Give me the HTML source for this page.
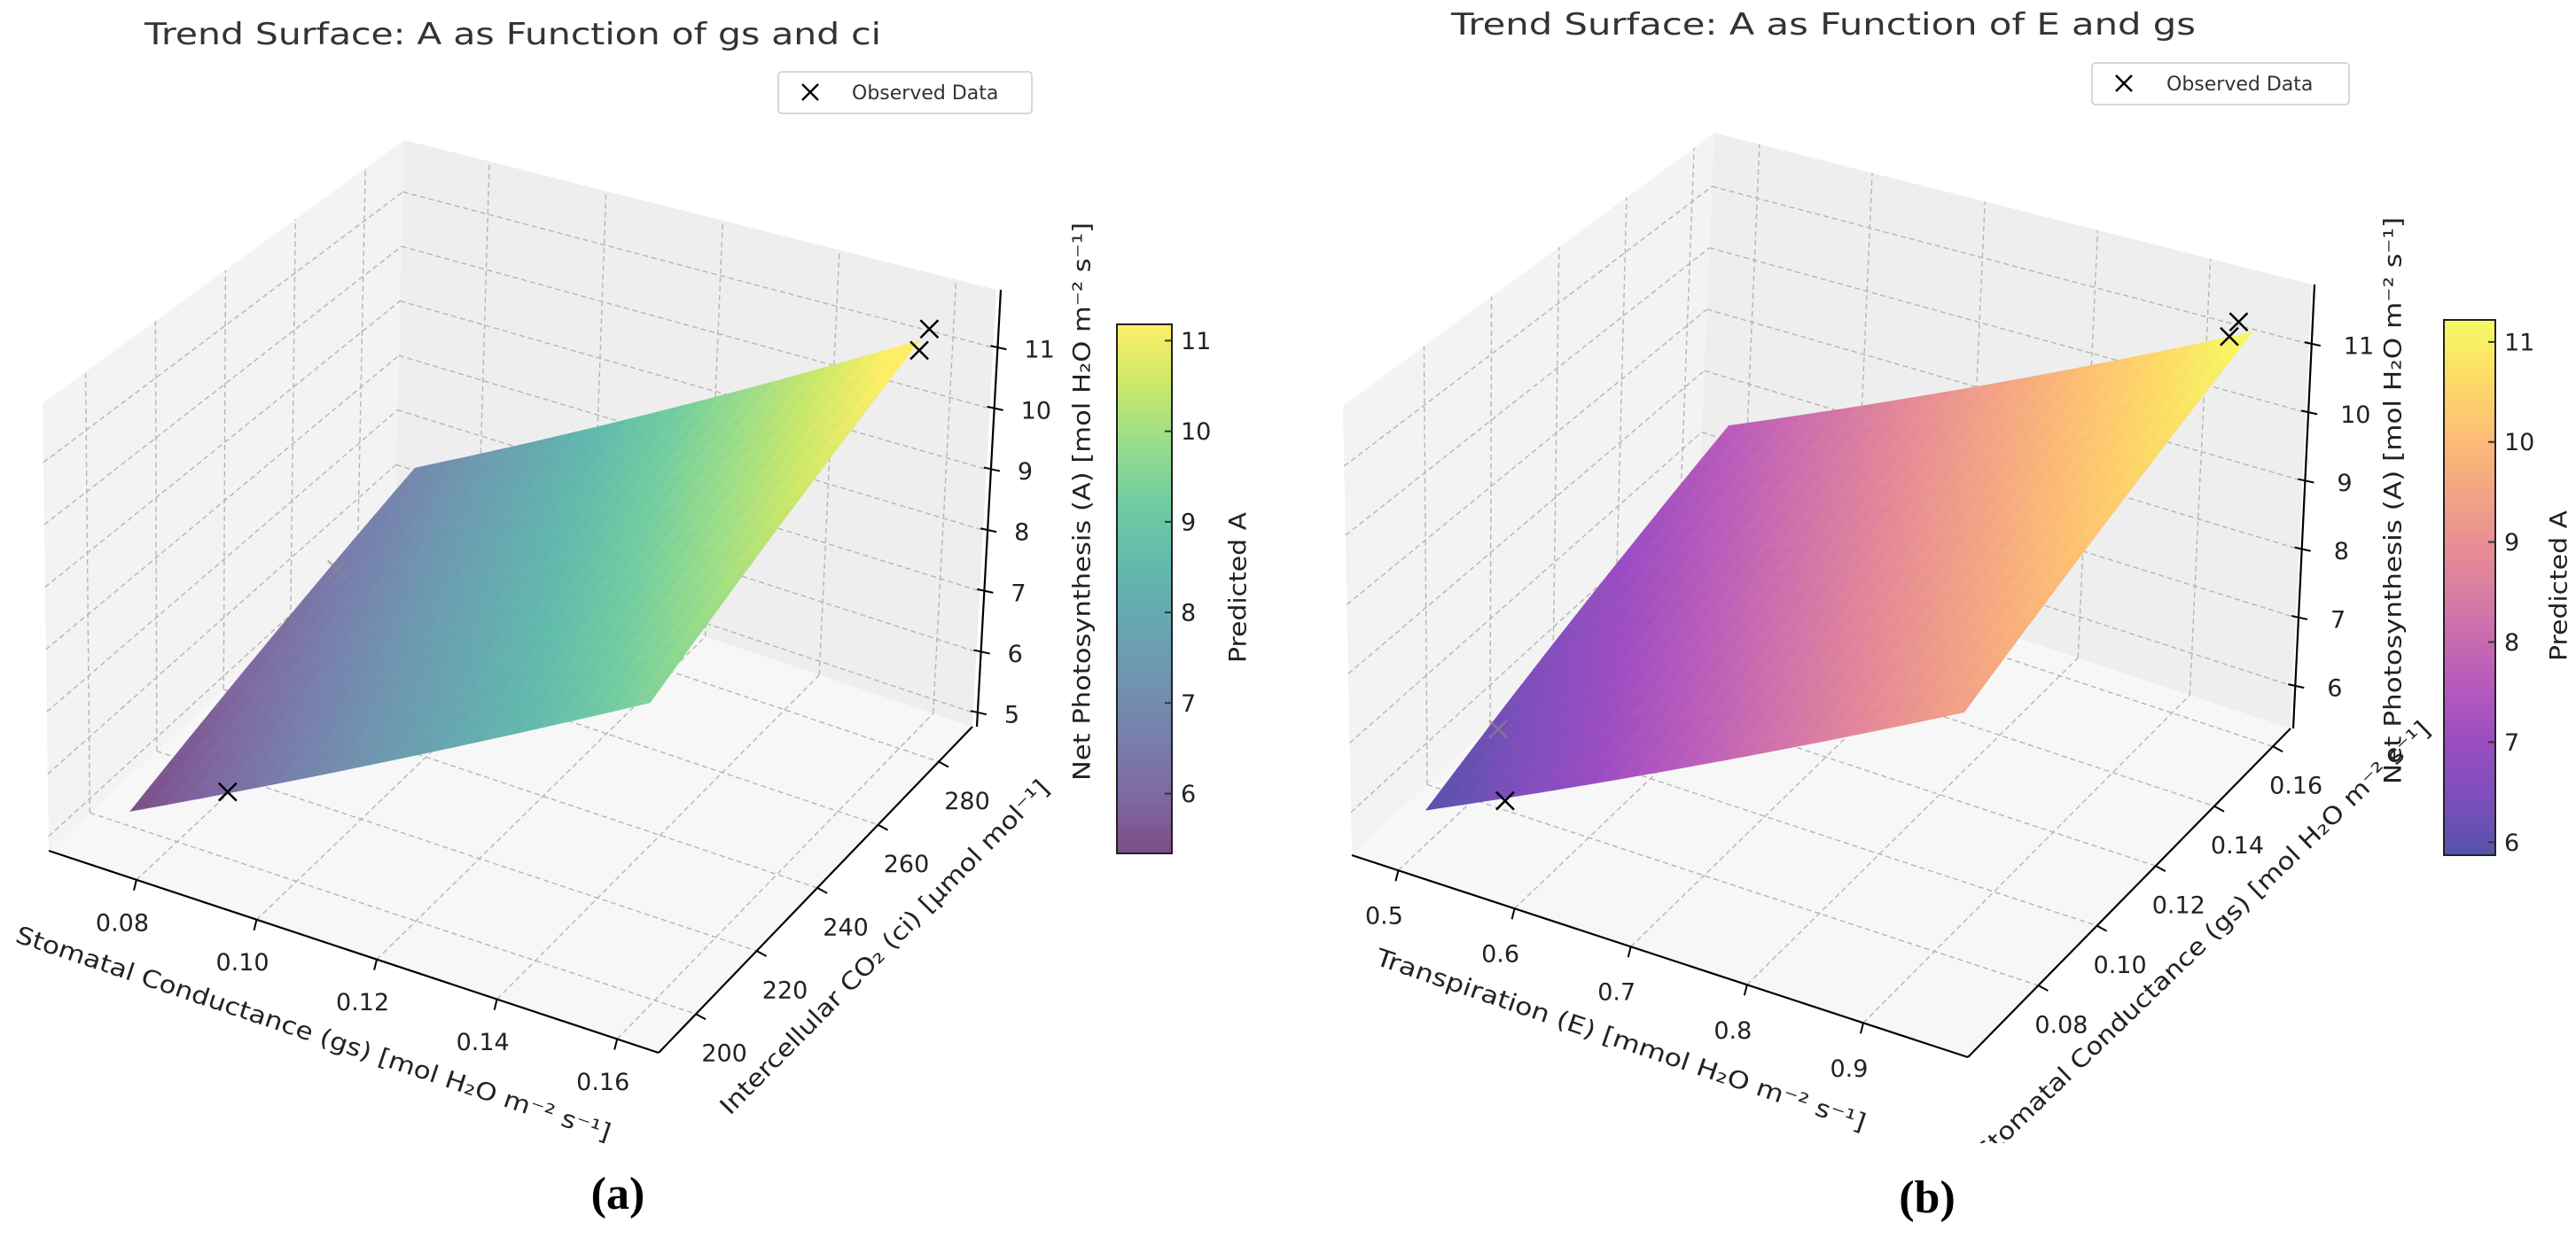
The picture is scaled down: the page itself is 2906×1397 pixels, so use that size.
<!DOCTYPE html>
<html><head><meta charset="utf-8"><style>
html,body{margin:0;padding:0;background:#fff;}
svg{display:block;font-family:"DejaVu Sans","Liberation Sans",sans-serif;}
</style></head><body>
<svg id="fig" xmlns="http://www.w3.org/2000/svg" width="2906" height="1397" viewBox="0 0 2906 1397">
<defs><clipPath id="clipB"><rect x="1450" y="0" width="1456" height="1290"/></clipPath></defs>
<rect x="0" y="0" width="2906" height="1397" fill="#fff"/>
<text x="163" y="50" font-size="34" fill="#333" textLength="831" lengthAdjust="spacingAndGlyphs">Trend Surface: A as Function of gs and ci</text>
<text x="1637" y="39" font-size="34" fill="#333" textLength="840" lengthAdjust="spacingAndGlyphs">Trend Surface: A as Function of E and gs</text>
<g>
<rect x="878" y="81" width="286" height="47" rx="4" fill="#fff" stroke="#ccc" stroke-width="1.5"/>
<path d="M905 95 L923 113 M923 95 L905 113" stroke="#000" stroke-width="2.5"/>
<text x="961" y="112" font-size="22" fill="#333">Observed Data</text>
</g>
<g>
<rect x="2360" y="71" width="290" height="47" rx="4" fill="#fff" stroke="#ccc" stroke-width="1.5"/>
<path d="M2387 85 L2405 103 M2405 85 L2387 103" stroke="#000" stroke-width="2.5"/>
<text x="2444" y="102" font-size="22" fill="#333">Observed Data</text>
</g>
<text x="697" y="1364" font-size="52" font-weight="bold" text-anchor="middle" font-family="Liberation Serif, serif">(a)</text>
<text x="2174" y="1368" font-size="52" font-weight="bold" text-anchor="middle" font-family="Liberation Serif, serif">(b)</text>
<g id="plotA"></g>
<g id="plotB"></g>
</svg>
<script>
// ---------- Panel A data ----------
const xTicksA = [0.08, 0.10, 0.12, 0.14, 0.16];
const xTickLabelsA = ["0.08", "0.10", "0.12", "0.14", "0.16"];
const yTicksA = [200, 220, 240, 260, 280];
const yTickLabelsA = ["200", "220", "240", "260", "280"];
const zTicksA = [5, 6, 7, 8, 9, 10, 11];
const cbTicksA = [6, 7, 8, 9, 10, 11];
const surfXA = [0.075, 0.160];
const surfYA = [195, 280];
const surfCornerA = [5.35, 9.5, 6.85, 11.45]; // (xlo,ylo),(xhi,ylo),(xlo,yhi),(xhi,yhi)
const obsXA = [0.160, 0.161, 0.089];
const obsYA = [283, 278, 199];
const obsZA = [11.5, 11.4, 5.9];
const hiddenXA = [0.076];
const hiddenYA = [255];
const hiddenZA = [6.4];
// ---------- Panel B data ----------
const xTicksB = [0.5, 0.6, 0.7, 0.8, 0.9];
const xTickLabelsB = ["0.5", "0.6", "0.7", "0.8", "0.9"];
const yTicksB = [0.08, 0.10, 0.12, 0.14, 0.16];
const yTickLabelsB = ["0.08", "0.10", "0.12", "0.14", "0.16"];
const zTicksB = [6, 7, 8, 9, 10, 11];
const cbTicksB = [6, 7, 8, 9, 10, 11];
const surfXB = [0.50, 0.955];
const surfYB = [0.065, 0.160];
const surfCornerB = [5.87, 9.47, 7.6, 11.25];
const obsXB = [0.935, 0.935, 0.56];
const obsYB = [0.163, 0.160, 0.068];
const obsZB = [11.2, 11.1, 6.2];
const hiddenXB = [0.508];
const hiddenYB = [0.085];
const hiddenZB = [6.25];

const viridis = ["#440154","#482878","#3e4989","#31688e","#26828e","#1f9e89","#35b779","#6ece58","#b5de2b","#fde725"];
const plasma = ["#0d0887","#46039f","#7201a8","#9c179e","#bd3786","#d8576b","#ed7953","#fb9f3a","#fdca26","#f0f921"];

const NS = "http://www.w3.org/2000/svg";
function el(tag, attrs, parent){
  const e = document.createElementNS(NS, tag);
  for (const k in attrs) e.setAttribute(k, attrs[k]);
  parent.appendChild(e);
  return e;
}
function hex(h){return [parseInt(h.substr(1,2),16),parseInt(h.substr(3,2),16),parseInt(h.substr(5,2),16)];}
function cmapColor(stops, t, alpha){
  t = Math.max(0, Math.min(1, t));
  const f = t*(stops.length-1), i = Math.min(stops.length-2, Math.floor(f)), u = f-i;
  const a = hex(stops[i]), b = hex(stops[i+1]);
  const c = [0,1,2].map(k => Math.round((a[k]+(b[k]-a[k])*u)*alpha + 255*(1-alpha)));
  return "rgb("+c.join(",")+")";
}
function lerp(p,q,t){return [p[0]+(q[0]-p[0])*t, p[1]+(q[1]-p[1])*t];}

function drawPanel(g, cfg){
  const C = cfg.corners;
  function P(gx,gy,gz){
    const b = lerp(lerp(C.L,C.F,gx), lerp(C.B,C.R,gx), gy);
    const t = lerp(lerp(C.Lt,C.Ft,gx), lerp(C.Bt,C.Rt,gx), gy);
    return lerp(b,t,gz);
  }
  const nx = v => (v-cfg.xr[0])/(cfg.xr[1]-cfg.xr[0]);
  const ny = v => (v-cfg.yr[0])/(cfg.yr[1]-cfg.yr[0]);
  const nz = v => (v-cfg.zr[0])/(cfg.zr[1]-cfg.zr[0]);
  const proj = (x,y,z) => P(nx(x), ny(y), nz(z));
  const poly = pts => pts.map(p=>p[0].toFixed(1)+","+p[1].toFixed(1)).join(" ");

  const leftPane = el("polygon", {points: poly([P(0,0,0),P(0,1,0),P(0,1,1),P(0,0,1)]), fill:"#f3f3f3"}, g);
  
  
  const backPane = el("polygon", {points: poly([P(0,1,0),P(1,1,0),P(1,1,1),P(0,1,1)]), fill:"#eeeeee"}, g);
  
  
  const floor = el("polygon", {points: poly([P(0,0,0),P(1,0,0),P(1,1,0),P(0,1,0)]), fill:"#f7f7f7"}, g);
  
  

  const gg = el("g", {stroke:"#b5b5b5", "stroke-width":"1.4", "stroke-dasharray":"6,4", fill:"none"}, g);
  
  
  function line(a,b){ return el("line",{x1:a[0],y1:a[1],x2:b[0],y2:b[1]},gg); }
  cfg.xTicks.forEach(v=>{ const t=nx(v);
    const l1=line(P(t,0,0),P(t,1,0)); 
    const l2=line(P(t,1,0),P(t,1,1));  });
  cfg.yTicks.forEach(v=>{ const t=ny(v);
    const l1=line(P(0,t,0),P(1,t,0)); 
    const l2=line(P(0,t,0),P(0,t,1));  });
  cfg.zTicks.forEach(v=>{ const t=nz(v);
    const l1=line(P(0,0,t),P(0,1,t)); 
    const l2=line(P(0,1,t),P(1,1,t));  });

  const sg = el("g", {}, g);
  
  
  const N = 28, sc = cfg.surf;
  const val = (u,v) => sc[0]*(1-u)*(1-v) + sc[1]*u*(1-v) + sc[2]*(1-u)*v + sc[3]*u*v;
  const sx = u => cfg.sx[0] + (cfg.sx[1]-cfg.sx[0])*u;
  const sy = v => cfg.sy[0] + (cfg.sy[1]-cfg.sy[0])*v;
  for (let i=0;i<N;i++) for (let j=0;j<N;j++){
    const u0=i/N,u1=(i+1)/N,v0=j/N,v1=(j+1)/N;
    const pts=[proj(sx(u0),sy(v0),val(u0,v0)),proj(sx(u1),sy(v0),val(u1,v0)),proj(sx(u1),sy(v1),val(u1,v1)),proj(sx(u0),sy(v1),val(u0,v1))];
    const c = cmapColor(cfg.cmap, (val((u0+u1)/2,(v0+v1)/2)-cfg.cb[0])/(cfg.cb[1]-cfg.cb[0]), 0.7);
    const q = el("polygon",{points:poly(pts), fill:c, stroke:c, "stroke-width":"0.8"}, sg);
    
  }

  for (let i=0;i<cfg.hx.length;i++){
    const p = proj(cfg.hx[i], cfg.hy[i], cfg.hz[i]);
    const m = el("path",{d:`M${p[0]-10} ${p[1]-10} L${p[0]+10} ${p[1]+10} M${p[0]+10} ${p[1]-10} L${p[0]-10} ${p[1]+10}`, stroke:"#8c8c8c", "stroke-width":"2.5", opacity:"0.6"}, g);
    
    
  }

  for (let i=0;i<cfg.ox.length;i++){
    const p = proj(cfg.ox[i], cfg.oy[i], cfg.oz[i]);
    const m = el("path",{d:`M${p[0]-10} ${p[1]-10} L${p[0]+10} ${p[1]+10} M${p[0]+10} ${p[1]-10} L${p[0]-10} ${p[1]+10}`, stroke:"#000", "stroke-width":"2.5"}, g);
    
    
  }

  const ax = el("g", {stroke:"#000", "stroke-width":"2.2", fill:"none"}, g);
  
  
  const a1=el("line",{x1:P(0,0,0)[0],y1:P(0,0,0)[1],x2:P(1,0,0)[0],y2:P(1,0,0)[1]},ax);
  
  const a2=el("line",{x1:P(1,0,0)[0],y1:P(1,0,0)[1],x2:P(1,1,0)[0],y2:P(1,1,0)[1]},ax);
  
  const a3=el("line",{x1:P(1,1,0)[0]+cfg.zdx,y1:P(1,1,0)[1],x2:P(1,1,1)[0]+cfg.zdx,y2:P(1,1,1)[1]},ax);
  

  const tg = el("g", {"font-size":"27", fill:"#222"}, g);
  
  
  cfg.xTicks.forEach((v,i)=>{ const p=P(nx(v),0,0);
    const tk=el("line",{x1:p[0],y1:p[1],x2:p[0]-3,y2:p[1]+12,stroke:"#000","stroke-width":"2"},ax);
    
    const t=el("text",{x:p[0]+cfg.xOff[0],y:p[1]+cfg.xOff[1],"text-anchor":"middle","dominant-baseline":"middle"},tg);
    
    t.textContent=cfg.xLabels[i]; });
  cfg.yTicks.forEach((v,i)=>{ const p=P(1,ny(v),0);
    const tk=el("line",{x1:p[0],y1:p[1],x2:p[0]+11,y2:p[1]+6,stroke:"#000","stroke-width":"2"},ax);
    
    const t=el("text",{x:p[0]+cfg.yOff[0],y:p[1]+cfg.yOff[1],"text-anchor":"middle","dominant-baseline":"middle"},tg);
    
    t.textContent=cfg.yLabels[i]; });
  cfg.zTicks.forEach(v=>{ const p=P(1,1,nz(v)); const x=p[0]+cfg.zdx;
    const tk=el("line",{x1:x-8,y1:p[1]-2,x2:x+10,y2:p[1]+2,stroke:"#000","stroke-width":"2"},ax);
    
    const t=el("text",{x:x+cfg.zOff,y:p[1]+4,"dominant-baseline":"middle"},tg);
    
    t.textContent=String(v); });

  const cbg = el("g", {}, g);
  
  
  const cbY = v => cfg.cbBox.y1 - (v-cfg.cb[0])/(cfg.cb[1]-cfg.cb[0])*(cfg.cbBox.y1-cfg.cbBox.y0);
  const steps=120, h=(cfg.cbBox.y1-cfg.cbBox.y0)/steps;
  for(let k=0;k<steps;k++){
    const v = cfg.cb[0]+(cfg.cb[1]-cfg.cb[0])*(k+0.5)/steps;
    const r=el("rect",{x:cfg.cbBox.x0,y:cbY(v)-h/2-0.5,width:cfg.cbBox.x1-cfg.cbBox.x0,height:h+1,fill:cmapColor(cfg.cmap,(k+0.5)/steps,0.7)},cbg);
    
  }
  const ob=el("rect",{x:cfg.cbBox.x0,y:cfg.cbBox.y0,width:cfg.cbBox.x1-cfg.cbBox.x0,height:cfg.cbBox.y1-cfg.cbBox.y0,fill:"none",stroke:"#222","stroke-width":"2"},cbg);
  
  cfg.cbTicks.forEach(v=>{ const y=cbY(v);
    const tk=el("line",{x1:cfg.cbBox.x1-8,y1:y,x2:cfg.cbBox.x1,y2:y,stroke:"#333","stroke-width":"2"},cbg);
    
    const t=el("text",{x:cfg.cbBox.x1+10,y:y+2,"font-size":"27",fill:"#222","dominant-baseline":"middle"},cbg);
    
    t.textContent=String(v); });

  const lbl = (name, txt, cx, cy, ang, len, anchor) => {
    const t=el("text",{x:cx,y:cy,"font-size":"27",fill:"#222","text-anchor":anchor||"middle","dominant-baseline":"middle",transform:`rotate(${ang} ${cx} ${cy})`,textLength:len,lengthAdjust:"spacingAndGlyphs"},cfg.labelParent||g);
    
    
    t.textContent=txt; };
  cfg.labels.forEach(l=>lbl(...l));
}

drawPanel(document.getElementById("plotA"), {
  corners:{L:[55,960],F:[743,1188],B:[445,600],R:[1097,820],Lt:[48,455],Ft:[762,645],Bt:[456,158],Rt:[1124,327]},
  xr:[0.0654,0.1669], yr:[187.7,291.1], zr:[4.77,11.95],
  xTicks:xTicksA, xLabels:xTickLabelsA, yTicks:yTicksA, yLabels:yTickLabelsA, zTicks:zTicksA,
  xOff:[-16,50], yOff:[32,46], zOff:30, zdx:5,
  sx:surfXA, sy:surfYA, surf:surfCornerA, ox:obsXA, oy:obsYA, oz:obsZA, hx:hiddenXA, hy:hiddenYA, hz:hiddenZA,
  cmap:viridis, cb:[5.34,11.18], cbTicks:cbTicksA, cbBox:{x0:1260,x1:1322,y0:366,y1:963},
  labels:[
    ["x-axis-title","Stomatal Conductance (gs) [mol H\u2082O m\u207B\u00B2 s\u207B\u00B9]",353,1168,18.6,706],
    ["y-axis-title","Intercellular CO\u2082 (ci) [\u03BCmol mol\u207B\u00B9]",999,1070,-45.5,516],
    ["z-axis-title","Net Photosynthesis (A) [mol H\u2082O m\u207B\u00B2 s\u207B\u00B9]",1222,566,-90,630],
    ["colorbar-title","Predicted A",1398,663,-90,170]
  ]
});

const gB = document.getElementById("plotB");
const clipG = el("g", {"clip-path":"url(#clipB)"}, gB);


drawPanel(gB, {
  corners:{L:[1525,965],F:[2220,1193],B:[1915,600],R:[2584,822],Lt:[1515,458],Ft:[2240,640],Bt:[1934,150],Rt:[2608,321]},
  xr:[0.46,0.99], yr:[0.056,0.166], zr:[5.38,11.87],
  xTicks:xTicksB, xLabels:xTickLabelsB, yTicks:yTicksB, yLabels:yTickLabelsB, zTicks:zTicksB,
  xOff:[-16,53], yOff:[26,46], zOff:36, zdx:3,
  sx:surfXB, sy:surfYB, surf:surfCornerB, ox:obsXB, oy:obsYB, oz:obsZB, hx:hiddenXB, hy:hiddenYB, hz:hiddenZB,
  cmap:plasma, cb:[5.87,11.22], cbTicks:cbTicksB, cbBox:{x0:2757,x1:2815,y0:361,y1:965},
  labelParent: clipG,
  labels:[
    ["x-axis-title","Transpiration (E) [mmol H\u2082O m\u207B\u00B2 s\u207B\u00B9]",1828,1175,18.9,582],
    ["y-axis-title","Stomatal Conductance (gs) [mol H\u2082O m\u207B\u00B2 s\u207B\u00B9]",2738,820,-44,700,"end"],
    ["z-axis-title","Net Photosynthesis (A) [mol H\u2082O m\u207B\u00B2 s\u207B\u00B9]",2701,565,-90,640],
    ["colorbar-title","Predicted A",2888,661,-90,170]
  ]
});
</script>
</body></html>
